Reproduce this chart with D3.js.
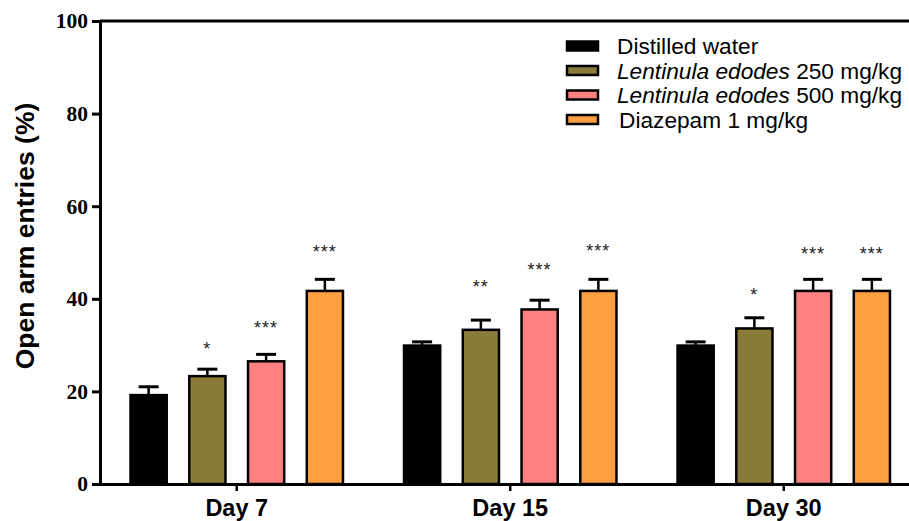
<!DOCTYPE html>
<html>
<head>
<meta charset="utf-8">
<script src="https://cdn.jsdelivr.net/npm/d3@7"></script>
<style>
  body { margin: 0; background: #fff; }
  svg { display: block; }
</style>
</head>
<body>
<div id="chart"></div>
<script>
const days = ['Day 7', 'Day 15', 'Day 30']
const groups = ['water', 'le250', 'le500', 'diazepam']
const groupColors = ['#000000', '#8b7b38', '#ff8080', '#ffa040']

// mean open arm entries (%) per group, by day
const meanWater = [19.2, 29.9, 29.9]
const meanLe250 = [23.3, 33.3, 33.6]
const meanLe500 = [26.5, 37.7, 41.7]
const meanDiazepam = [41.7, 41.7, 41.7]

// upper end of the error bars
const capWater = [21.0, 30.7, 30.7]
const capLe250 = [24.8, 35.4, 35.9]
const capLe500 = [28.0, 39.7, 44.2]
const capDiazepam = [44.2, 44.2, 44.2]

// significance marks and the level (in %) they sit at
const starsLe250 = ['*', '**', '*']
const starsLe500 = ['***', '***', '***']
const starsDiazepam = ['***', '***', '***']
const starLevelLe250 = [30.0, 43.4, 41.7]
const starLevelLe500 = [34.6, 47.1, 50.5]
const starLevelDiazepam = [51.0, 51.2, 50.5]

const yTicks = [0, 20, 40, 60, 80, 100]

const width = 909
const height = 521
const marginLeft = 100
const plotTop = 21
const plotBottom = 484

const means = [meanWater, meanLe250, meanLe500, meanDiazepam]
const caps = [capWater, capLe250, capLe500, capDiazepam]
const stars = [[], starsLe250, starsLe500, starsDiazepam]
const starLevels = [[], starLevelLe250, starLevelLe500, starLevelDiazepam]

const rows = []
days.forEach((day, i) => {
  groups.forEach((g, j) => {
    rows.push({ day, g, color: groupColors[j], mean: means[j][i], cap: caps[j][i], star: stars[j][i], starAt: starLevels[j][i] })
  })
})

const svg = d3.select('#chart').append('svg')
  .attr('width', width)
  .attr('height', height)

const x0 = d3.scaleBand().domain(days).range([marginLeft, marginLeft + 3 * 273.5])
const x1 = d3.scaleBand().domain(groups).range([-117.5, 117.5]).paddingInner(0.35).paddingOuter(0.175)
const y = d3.scaleLinear().domain([0, 100]).range([plotBottom, plotTop])

// top frame line
svg.append('line')
  .attr('x1', marginLeft).attr('x2', width)
  .attr('y1', y(100)).attr('y2', y(100))
  .attr('stroke', '#000').attr('stroke-width', 3)

const bars = svg.append('g')
rows.forEach(d => {
  const cx = x0(d.day) + x0.bandwidth() / 2 + x1(d.g) + x1.bandwidth() / 2
  // error bar
  bars.append('line')
    .attr('x1', cx).attr('x2', cx)
    .attr('y1', y(d.mean)).attr('y2', y(d.cap))
    .attr('stroke', '#000').attr('stroke-width', 2.5)
  bars.append('line')
    .attr('x1', cx - 10).attr('x2', cx + 10)
    .attr('y1', y(d.cap)).attr('y2', y(d.cap))
    .attr('stroke', '#000').attr('stroke-width', 3)
  bars.append('rect')
    .attr('x', cx - x1.bandwidth() / 2 + 1)
    .attr('y', y(d.mean))
    .attr('width', x1.bandwidth() - 2)
    .attr('height', y(0) - y(d.mean))
    .attr('fill', d.color)
    .attr('stroke', '#000')
    .attr('stroke-width', 2.5)
  if (d.star) {
    bars.append('text')
      .attr('x', cx)
      .attr('y', y(d.starAt) + 10)
      .attr('text-anchor', 'middle')
      .attr('font-family', 'Liberation Sans, Arial, sans-serif')
      .attr('font-size', 18)
      .attr('letter-spacing', 1)
      .attr('fill', '#222')
      .text(d.star)
  }
})

// y axis
const yAxis = svg.append('g')
  .attr('transform', `translate(${marginLeft},0)`)
  .call(d3.axisLeft(y).tickValues(yTicks).tickSize(8).tickPadding(4))
yAxis.select('.domain').attr('stroke-width', 3)
yAxis.selectAll('.tick line').attr('stroke-width', 3)
yAxis.selectAll('.tick text')
  .attr('font-family', 'Liberation Serif, Times New Roman, serif')
  .attr('font-weight', 'bold')
  .attr('font-size', 21.5)
  .attr('fill', '#000')

// x axis
const xAxis = svg.append('g')
  .attr('transform', `translate(0,${plotBottom})`)
  .call(d3.axisBottom(x0).tickSize(7).tickPadding(8).tickSizeOuter(0))
xAxis.select('.domain').attr('stroke-width', 3)
xAxis.selectAll('.tick line').attr('stroke-width', 2.5)
xAxis.selectAll('.tick text')
  .attr('font-family', 'Liberation Sans, Arial, sans-serif')
  .attr('font-weight', 'bold')
  .attr('font-size', 23.5)
  .attr('fill', '#000')

svg.append('text')
  .attr('transform', `translate(34,${236}) rotate(-90)`)
  .attr('text-anchor', 'middle')
  .attr('font-family', 'Liberation Sans, Arial, sans-serif')
  .attr('font-weight', 'bold')
  .attr('font-size', 26.5)
  .text('Open arm entries (%)')

// legend
const legendLabels = [
  [{ t: 'Distilled water' }],
  [{ t: 'Lentinula edodes', i: true }, { t: ' 250 mg/kg' }],
  [{ t: 'Lentinula edodes', i: true }, { t: ' 500 mg/kg' }],
  [{ t: 'Diazepam 1 mg/kg' }]
]
const legend = svg.append('g').attr('transform', 'translate(567,46)')
legendLabels.forEach((parts, i) => {
  const row = legend.append('g').attr('transform', `translate(0,${i * 24.5})`)
  row.append('rect')
    .attr('x', 0).attr('y', -4.5)
    .attr('width', 31).attr('height', 9)
    .attr('fill', groupColors[i])
    .attr('stroke', '#000').attr('stroke-width', 2.5)
  const txt = row.append('text')
    .attr('x', i === 3 ? 52 : 50)
    .attr('y', 8)
    .attr('font-family', 'Liberation Sans, Arial, sans-serif')
    .attr('font-size', 22.7)
  parts.forEach(p => {
    txt.append('tspan')
      .attr('font-style', p.i ? 'italic' : 'normal')
      .text(p.t)
  })
})
</script>
</body>
</html>
